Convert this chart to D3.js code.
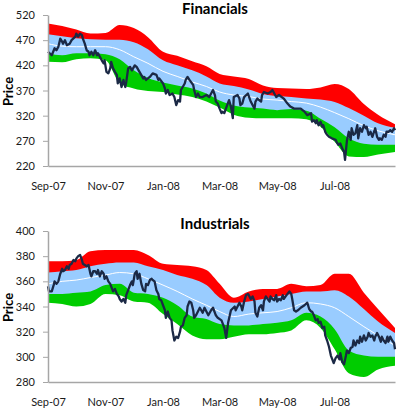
<!DOCTYPE html>
<html>
<head>
<meta charset="utf-8">
<script src="https://cdn.jsdelivr.net/npm/d3@7"></script>
<style>
  body { margin: 0; background: #fff; }
  svg { display: block; font-family: Lato, 'Open Sans', sans-serif; }
</style>
</head>
<body>
<div id="chart"></div>
<script>
(function () {
  'use strict';

  // Day 0 = 1 Sep 2007; all x values below are day offsets from it
  var startDate = new Date(2007, 8, 1);
  var lastDay = 368;

  var tickDays = [0, 61, 122, 182, 243, 304];
  var tickLabels = ['Sep-07', 'Nov-07', 'Jan-08', 'Mar-08', 'May-08', 'Jul-08'];

  // band edges, read twice a month
  var bandDays = [0, 15, 30, 45, 61, 76, 91, 106, 122, 137, 153, 168, 182, 197, 213, 228, 243, 258, 274, 289, 304, 319, 335, 350, 368];

  // ── Financials ──
  var finTicks = [220, 270, 320, 370, 420, 470, 520];
  var finUpper2 = [503, 498, 491, 483, 484, 500, 494, 476, 447, 439, 428, 418, 403, 398, 393, 380, 375, 374, 373, 376, 383, 373, 343, 322, 303];
  var finUpper1 = [482, 478, 474, 472, 471, 471, 466, 452, 430, 420, 410, 398, 384, 379, 372, 363, 359, 357, 354, 352, 347, 335, 320, 305, 296];
  var finMid    = [463, 458, 457, 457, 457, 451, 437, 424, 408, 398, 387, 378, 367, 361, 358, 353, 351, 348, 345, 337, 326, 314, 300, 290, 282];
  var finLower1 = [444, 440, 444, 444, 442, 432, 410, 395, 386, 380, 374, 364, 350, 340, 336, 334, 331, 333, 330, 314, 297, 275, 264, 262, 262];
  var finLower2 = [427, 426, 432, 434, 430, 385, 374, 369, 367, 362, 357, 348, 336, 322, 316, 315, 315, 315, 313, 298, 268, 239, 238, 243, 248];

  var finDays = [0, 4, 7, 9, 11, 13, 15, 16, 18, 20, 23, 25, 29, 30, 32, 34, 36, 37, 39, 41, 43, 44, 46, 48, 50, 52, 53, 55, 57, 59,
    60, 62, 64, 66, 67, 69, 71, 73, 74, 76, 78, 80, 82, 83, 85, 87, 89, 92, 94, 97, 101, 102, 104, 108, 111, 115, 117, 118, 122, 124,
    125, 127, 129, 132, 134, 136, 138, 140, 141, 145, 146, 148, 150, 154, 155, 157, 159, 161, 164, 168, 171, 175, 177, 178, 180, 182, 184, 185, 187, 190,
    192, 194, 196, 197, 201, 203, 204, 206, 208, 212, 215, 219, 220, 222, 226, 227, 229, 233, 236, 238, 242, 245, 250, 254, 257, 261, 268, 272, 275, 279,
    280, 282, 284, 285, 287, 289, 291, 292, 294, 296, 298, 301, 305, 306, 308, 310, 312, 314, 315, 317, 319, 321, 322, 324, 326, 328, 329, 331, 333, 335,
    337, 338, 340, 342, 344, 347, 349, 351, 352, 354, 356, 358, 359, 361, 363, 365, 367, 368];
  var finPrice = [447, 440, 454, 450, 457, 473, 467, 463, 470, 460, 463, 470, 477, 483, 477, 483, 480, 473, 463, 450, 447, 440, 447, 440, 450, 440, 444, 437, 430, 424,
    430, 407, 404, 414, 427, 414, 407, 401, 384, 394, 377, 391, 377, 387, 414, 417, 410, 420, 417, 407, 394, 397, 391, 397, 404, 401, 391, 394, 384, 374,
    364, 371, 361, 364, 357, 341, 351, 348, 371, 384, 391, 397, 391, 381, 371, 357, 364, 357, 357, 361, 357, 371, 361, 348, 344, 334, 325, 328, 325, 341,
    351, 338, 315, 357, 361, 354, 341, 344, 357, 364, 348, 334, 348, 354, 348, 361, 367, 364, 367, 371, 357, 361, 354, 344, 338, 334, 334, 328, 321, 325,
    308, 311, 305, 311, 301, 308, 298, 301, 288, 282, 278, 275, 272, 268, 262, 265, 255, 248, 232, 270, 288, 272, 295, 282, 285, 301, 275, 295, 288, 301,
    295, 298, 282, 288, 278, 295, 278, 272, 275, 272, 282, 278, 288, 288, 291, 288, 295, 291];

  // ── Industrials ──
  var indTicks = [280, 300, 320, 340, 360, 380, 400];
  var indUpper2 = [376, 376, 377, 384, 385, 385, 385, 381, 374, 373, 372, 369, 358, 347, 352, 354, 354, 358, 356, 357, 366, 366, 351, 338, 323];
  var indUpper1 = [367, 368, 369, 372, 374, 375, 375, 372, 369, 365, 362, 357, 347, 343, 344, 346, 348, 350, 352, 352, 353, 348, 338, 328, 319];
  var indMid    = [358, 360, 361, 363, 365, 367, 366, 362, 357, 352, 346, 341, 336, 332, 334, 335, 336, 339, 343, 342, 339, 332, 324, 317, 309];
  var indLower1 = [350, 350, 351, 352, 357, 358, 351, 350, 347, 341, 332, 330, 326, 325, 325, 326, 327, 329, 335, 332, 322, 305, 301, 300, 300];
  var indLower2 = [343, 342, 340, 342, 350, 349, 344, 343, 334, 326, 317, 314, 314, 316, 318, 318, 319, 321, 329, 323, 306, 287, 284, 290, 293];

  var indDays = [0, 1, 4, 6, 7, 9, 11, 13, 15, 16, 18, 20, 22, 23, 25, 27, 29, 30, 32, 34, 36, 37, 39, 41, 43, 45, 46, 48, 50, 52,
    53, 55, 57, 59, 60, 62, 64, 66, 68, 69, 71, 73, 75, 76, 78, 80, 82, 83, 85, 87, 89, 90, 92, 94, 95, 97, 99, 101, 103, 104,
    106, 108, 110, 111, 113, 115, 117, 118, 120, 122, 124, 125, 127, 129, 131, 132, 134, 136, 138, 140, 141, 143, 145, 147, 148, 150, 152, 154, 155, 157,
    159, 161, 164, 166, 170, 173, 175, 178, 180, 184, 185, 187, 189, 191, 194, 198, 199, 203, 205, 206, 208, 210, 212, 213, 215, 217, 219, 220, 222, 224,
    226, 228, 229, 231, 233, 235, 236, 238, 240, 242, 243, 245, 247, 249, 250, 252, 254, 256, 258, 259, 261, 263, 265, 268, 272, 275, 277, 279, 280, 282,
    284, 286, 287, 289, 291, 293, 294, 296, 298, 300, 301, 303, 305, 307, 309, 310, 312, 314, 316, 317, 319, 321, 323, 324, 326, 328, 330, 331, 333, 335,
    337, 339, 340, 342, 344, 346, 347, 349, 351, 353, 354, 356, 358, 360, 361, 363, 365, 367, 368];
  var indPrice = [356, 352, 352, 357, 360, 358, 360, 366, 370, 368, 369, 372, 370, 373, 374, 377, 376, 378, 380, 381, 377, 374, 373, 372, 373, 366, 364, 368, 368, 366,
    369, 364, 368, 366, 362, 364, 360, 358, 354, 352, 354, 350, 348, 346, 344, 346, 343, 349, 353, 357, 360, 357, 366, 368, 362, 366, 358, 353, 352, 358,
    357, 361, 362, 361, 360, 353, 350, 346, 345, 341, 337, 331, 336, 331, 329, 321, 313, 316, 315, 320, 324, 325, 331, 333, 340, 344, 343, 337, 331, 333,
    336, 339, 335, 339, 333, 337, 339, 333, 331, 329, 327, 323, 315, 327, 337, 340, 337, 343, 340, 337, 344, 349, 350, 349, 346, 348, 344, 335, 332, 339,
    341, 337, 344, 348, 346, 344, 348, 346, 345, 349, 344, 346, 345, 349, 346, 348, 350, 352, 350, 346, 337, 336, 337, 339, 341, 343, 338, 336, 336, 333,
    329, 330, 327, 328, 323, 324, 317, 313, 308, 301, 299, 295, 299, 301, 298, 303, 296, 294, 301, 305, 303, 307, 308, 313, 309, 313, 311, 316, 312, 317,
    313, 316, 319, 316, 317, 313, 316, 319, 316, 312, 316, 313, 311, 316, 312, 316, 313, 311, 306];

  var colors = { red: '#ff0000', blue: '#99ccff', green: '#00cc00', price: '#1b2945', axis: '#a6a6a6' };

  function dayToDate(d) { return d3.timeDay.offset(startDate, d); }

  var svg = d3.select('#chart').append('svg').attr('width', 400).attr('height', 410);

  function drawPanel(p) {
    var x = d3.scaleTime().domain([startDate, dayToDate(lastDay)]).range([48, 395]);
    var y = d3.scaleLinear().domain([p.ticks[0], p.ticks[p.ticks.length - 1]]).range([p.bottom, p.top]);
    var g = svg.append('g');

    var rows = bandDays.map(function (d, i) {
      return { date: dayToDate(d), u2: p.u2[i], u1: p.u1[i], mid: p.mid[i], l1: p.l1[i], l2: p.l2[i] };
    });

    function band(hi, lo, color) {
      var area = d3.area()
        .x(function (d) { return x(d.date); })
        .y0(function (d) { return y(d[lo]); })
        .y1(function (d) { return y(d[hi]); })
        .curve(d3.curveMonotoneX);
      g.append('path').datum(rows).attr('d', area).attr('fill', color);
    }
    // outer bands run to the middle so no seam shows under the blue
    band('u2', 'mid', colors.red);
    band('mid', 'l2', colors.green);
    band('u1', 'l1', colors.blue);

    var midLine = d3.line()
      .x(function (d) { return x(d.date); })
      .y(function (d) { return y(d.mid); })
      .curve(d3.curveMonotoneX);
    g.append('path').datum(rows).attr('d', midLine)
      .attr('fill', 'none').attr('stroke', '#fff').attr('stroke-width', 1);

    var pts = p.days.map(function (d, i) { return { date: dayToDate(d), v: p.price[i] }; });
    var priceLine = d3.line()
      .x(function (d) { return x(d.date); })
      .y(function (d) { return y(d.v); });
    g.append('path').datum(pts).attr('d', priceLine)
      .attr('fill', 'none').attr('stroke', colors.price).attr('stroke-width', 2.3)
      .attr('stroke-linejoin', 'round');

    // axes
    var xAxis = g.append('g').attr('transform', 'translate(0,' + p.bottom + ')')
      .call(d3.axisBottom(x).tickValues(tickDays.map(dayToDate)).tickSize(0).tickPadding(16)
        .tickFormat(function (d, i) { return tickLabels[i]; }));
    var yAxis = g.append('g').attr('transform', 'translate(48,0)')
      .call(d3.axisLeft(y).tickValues(p.ticks).tickSize(5).tickSizeOuter(0).tickPadding(8));
    [xAxis, yAxis].forEach(function (a) {
      a.select('.domain').attr('stroke', colors.axis).attr('stroke-width', 1.5);
      a.selectAll('.tick line').attr('stroke', colors.axis);
      a.selectAll('text').attr('fill', '#1a1a1a').attr('font-size', '11px')
        .attr('font-family', 'Lato, sans-serif');
    });

    svg.append('text').attr('x', 215).attr('y', p.titleY)
      .attr('text-anchor', 'middle').attr('font-size', '15px').attr('font-weight', 'bold')
      .text(p.title);
    svg.append('text')
      .attr('transform', 'translate(13,' + ((p.top + p.bottom) / 2 + 1) + ') rotate(-90)')
      .attr('text-anchor', 'middle').attr('font-size', '13px').attr('font-weight', 'bold')
      .text('Price');
  }

  drawPanel({ title: 'Financials', titleY: 14, top: 15, bottom: 166, ticks: finTicks,
    u2: finUpper2, u1: finUpper1, mid: finMid, l1: finLower1, l2: finLower2, days: finDays, price: finPrice });
  drawPanel({ title: 'Industrials', titleY: 229, top: 231, bottom: 382, ticks: indTicks,
    u2: indUpper2, u1: indUpper1, mid: indMid, l1: indLower1, l2: indLower2, days: indDays, price: indPrice });
})();
</script>
</body>
</html>
